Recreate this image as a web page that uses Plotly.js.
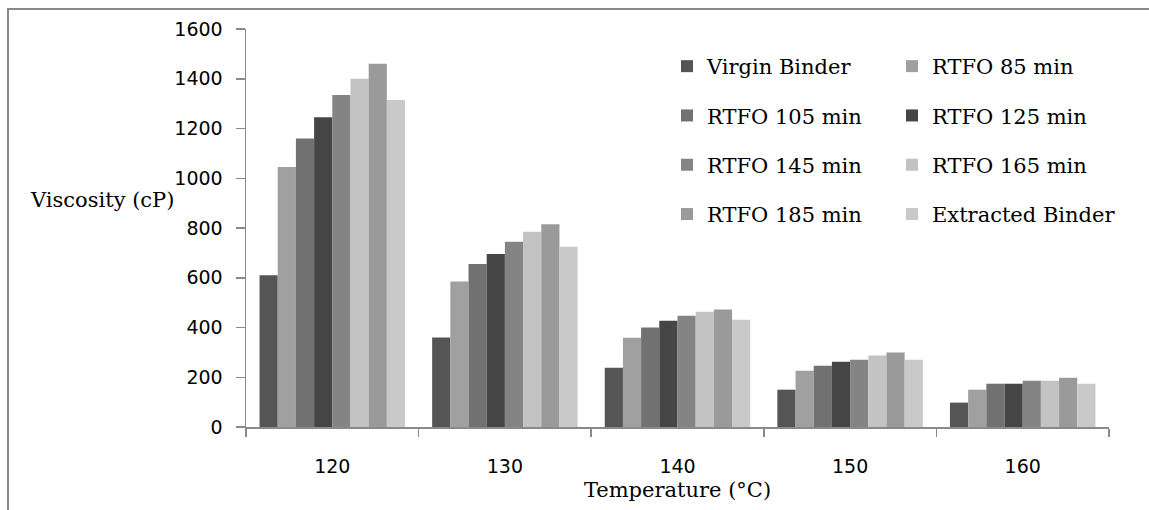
<!DOCTYPE html>
<html>
<head>
<meta charset="utf-8">
<script src="https://cdn.plot.ly/plotly-3.0.1.min.js"></script>
<style>
  html, body { margin: 0; padding: 0; background: #fff; }
  #wrap { position: relative; width: 1149px; height: 510px; }
  #chart { width: 1149px; height: 510px; }
  #frame { position: absolute; left: 7px; top: 8px; width: 1160px; height: 520px;
           border-top: 2px solid #8a8a8a; border-left: 2px solid #8a8a8a; pointer-events: none; }
</style>
</head>
<body>
<div id="wrap"><div id="chart"></div><div id="frame"></div></div>
<script>
// Categories (temperature, °C)
const temperatures = ['120', '130', '140', '150', '160'];

// Series names
const seriesNames = ['Virgin Binder', 'RTFO 85 min', 'RTFO 105 min', 'RTFO 125 min',
                     'RTFO 145 min', 'RTFO 165 min', 'RTFO 185 min', 'Extracted Binder'];

// Viscosity values (cP) per series, by temperature
const virginBinder    = [610, 360, 238, 150, 98];
const rtfo85          = [1045, 585, 359, 226, 150];
const rtfo105         = [1160, 655, 400, 246, 174];
const rtfo125         = [1245, 695, 427, 262, 174];
const rtfo145         = [1335, 745, 447, 270, 186];
const rtfo165         = [1400, 785, 463, 287, 186];
const rtfo185         = [1460, 815, 472, 300, 198];
const extractedBinder = [1315, 725, 431, 270, 174];

const seriesValues = [virginBinder, rtfo85, rtfo105, rtfo125, rtfo145, rtfo165, rtfo185, extractedBinder];
const seriesColors = ['#555555', '#a0a0a0', '#717171', '#454545', '#848484', '#c3c3c3', '#9a9a9a', '#c9c9c9'];
// Legend column assignment (Excel legend laid out in two columns)
const legendIds = ['legend', 'legend2', 'legend', 'legend2', 'legend', 'legend2', 'legend', 'legend2'];

const yTickVals = [0, 200, 400, 600, 800, 1000, 1200, 1400, 1600];

const traces = seriesNames.map((name, i) => ({
  type: 'bar',
  name: name,
  x: temperatures,
  y: seriesValues[i],
  marker: { color: seriesColors[i], line: { width: 0 } },
  legend: legendIds[i],
  legendgroup: 'g' + i
}));

const serif = 'DejaVu Serif, Liberation Serif, serif';
const sans = 'DejaVu Sans, Liberation Sans, sans-serif';

const mL = 246, mR = 40, mT = 29, mB = 83;
const plotW = 1149 - mL - mR;
const plotH = 510 - mT - mB;
const plotBottom = 510 - mB;

const legendCommon = {
  xref: 'paper', yref: 'paper',
  xanchor: 'left', yanchor: 'top',
  orientation: 'v',
  traceorder: 'grouped',
  tracegroupgap: 19,
  bgcolor: 'rgba(0,0,0,0)',
  borderwidth: 0,
  font: { family: serif, size: 21, color: '#000' }
};

const layout = {
  width: 1149, height: 510,
  margin: { l: mL, r: mR, t: mT, b: mB, pad: 0 },
  paper_bgcolor: '#fff', plot_bgcolor: '#fff',
  barmode: 'group',
  bargap: 0.157,
  bargroupgap: 0,
  showlegend: true,
  legend: Object.assign({}, legendCommon, { x: (667 - mL) / plotW, y: (plotBottom - 46) / plotH }),
  legend2: Object.assign({}, legendCommon, { x: (892 - mL) / plotW, y: (plotBottom - 46) / plotH }),
  xaxis: {
    type: 'category',
    tickson: 'boundaries',
    ticks: 'outside', ticklen: 8, tickcolor: '#8a8a8a', tickwidth: 1.5,
    showline: true, linecolor: '#8a8a8a', linewidth: 1.5,
    showgrid: false, zeroline: false,
    tickfont: { family: sans, size: 19, color: '#000' },
    ticklabelstandoff: 22,
    title: { text: 'Temperature (°C)', font: { family: serif, size: 21, color: '#000' }, standoff: 6 }
  },
  yaxis: {
    range: [0, 1600],
    tickvals: yTickVals,
    ticks: 'outside', ticklen: 9, tickcolor: '#8a8a8a', tickwidth: 1.5,
    showline: true, linecolor: '#8a8a8a', linewidth: 1.5,
    showgrid: false, zeroline: false,
    tickfont: { family: sans, size: 19, color: '#000' },
    ticklabelstandoff: 9
  },
  annotations: [{
    text: 'Viscosity (cP)',
    xref: 'paper', yref: 'paper',
    x: (28 - mL) / plotW, y: (plotBottom - 200) / plotH,
    xanchor: 'left', yanchor: 'middle',
    showarrow: false,
    font: { family: serif, size: 21, color: '#000' }
  }]
};

Plotly.newPlot('chart', traces, layout, { staticPlot: true, displayModeBar: false });
</script>
</body>
</html>
